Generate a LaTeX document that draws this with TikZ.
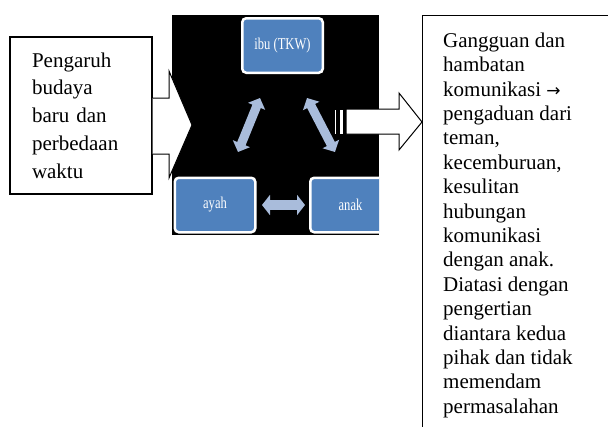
\documentclass[tikz,border=0pt]{standalone}
\usepackage{fontspec}
\setmainfont{Liberation Serif}
\newfontfamily\arrowfont{DejaVu Sans}
\usetikzlibrary{arrows.meta}
\definecolor{boxblue}{HTML}{4F81BD}
\definecolor{arrblue}{HTML}{A9BCDB}
\tikzset{
  smbox/.style={fill=boxblue, draw=white, line width=2.5pt, rounded corners=4pt,
    minimum width=80.5pt, minimum height=54.5pt, inner sep=0pt, text=white,
    font=\fontsize{16.5}{18}\selectfont},
  dblarr/.style={draw=arrblue, line width=10pt,
    {Triangle[width=20pt 0 0,length=8pt 0 0]}-{Triangle[width=20pt 0 0,length=8pt 0 0]}},
  dbldiag/.style={draw=arrblue, line width=9pt,
    {Triangle[width=18pt 0 0,length=9pt 0 0]}-{Triangle[width=18pt 0 0,length=9pt 0 0]}},
  blockarr/.style={fill=white, draw=black, line width=1pt, line join=miter},
  txtbox/.style={draw=black, line width=1.2pt},
  bodytext/.style={font=\fontsize{21}{24.4}\selectfont, align=left, inner sep=0pt}
}
\newcommand{\sq}[1]{\scalebox{0.76}[1]{#1}}
\begin{document}
\begin{tikzpicture}[x=1pt,y=-1pt]
\useasboundingbox (0,0) rectangle (608,426);
% SmartArt background
\fill[black] (172,15) rectangle (379,235);
\begin{scope}
\clip (172,15) rectangle (379,235);
\node[smbox] (ibu) at (282.5,45.5) {\sq{ibu (TKW)}};
\node[smbox] (ayah) at (215,205) {\sq{ayah}};
\node[smbox] (anak) at (350.5,205) {\sq{anak}};
\coordinate (ia1) at (260,98);
\coordinate (ia2) at (238,152);
\coordinate (in1) at (307,98);
\coordinate (in2) at (335,152);
\coordinate (aa1) at (262,205);
\coordinate (aa2) at (305,205);
\draw[dbldiag] (ia1) -- (ia2);
\draw[dbldiag] (in1) -- (in2);
\draw[dblarr] (aa1) -- (aa2);
\end{scope}
% left text box
\node[txtbox, minimum width=142pt, minimum height=157pt, text width=98pt,
  inner xsep=22pt, align=left, font=\fontsize{21}{27.7}\selectfont]
  (infl) at (81,115.5) {Pengaruh\\budaya\\baru dan\\perbedaan\\waktu};
% left block arrow
\draw[blockarr] (infl.east |- 0,98) -- (169,98) -- (169,71) -- (192,125)
  -- (169,178) -- (169,154) -- (infl.east |- 0,154);
% right text box
\node[txtbox, anchor=north west, minimum width=195pt, minimum height=430pt,
  inner sep=0pt] (res) at (422,15) {};
\node[bodytext, anchor=north west] (restext) at (443,32.5)
  {Gangguan dan\\hambatan\\komunikasi {\arrowfont\fontsize{17}{20}\selectfont →}\\pengaduan dari\\teman,\\kecemburuan,\\kesulitan\\hubungan\\komunikasi\\dengan anak.\\Diatasi dengan\\pengertian\\diantara kedua\\pihak dan tidak\\memendam\\permasalahan};
% right striped block arrow
\draw[blockarr] (334,109) rectangle (336,134);
\draw[blockarr] (339,109) rectangle (343,134);
\draw[blockarr] (346,109) -- (399,109) -- (399,93) -- (res.west |- 0,122)
  -- (399,150) -- (399,134) -- (346,134) -- cycle;
\end{tikzpicture}
\end{document}
